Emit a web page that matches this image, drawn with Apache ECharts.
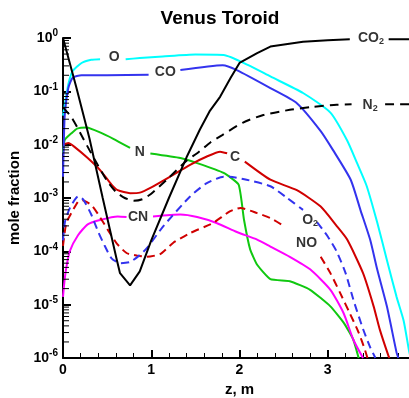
<!DOCTYPE html>
<html>
<head>
<meta charset="utf-8">
<script src="https://cdn.jsdelivr.net/npm/echarts@6/dist/echarts.min.js"></script>
<style>
  html, body { margin: 0; padding: 0; background: #fff; }
  #chart { width: 409px; height: 398px; }
</style>
</head>
<body>
<div id="chart"></div>
<script>
// Mole fractions along the torch axis, as [z (m), mole fraction].
// A null value leaves a break in the curve where its name is written.
const CO2 = [[0, 1.0], [0.15, 0.12], [0.3, 0.013], [0.45, 1.0e-3], [0.61, 6.9e-5], [0.646, 3.9e-5],
  [0.76, 2.3e-5], [0.87, 4.2e-5], [1.0, 1.6e-4], [1.2, 1.0e-3], [1.4, 5.8e-3], [1.55, 0.019],
  [1.66, 0.042], [1.78, 0.079], [1.9, 0.18], [2.0, 0.34], [2.2, 0.52], [2.35, 0.69], [2.72, 0.85],
  [3.0, 0.91], [3.25, 0.95], [3.3, null], [3.69, 0.95], [4.0, 0.95]];

const N2 = [[0, 0.05], [0.1, 0.032], [0.2, 0.016], [0.3, 7.9e-3], [0.4, 4.0e-3], [0.5, 2.1e-3],
  [0.6, 1.3e-3], [0.7, 1.0e-3], [0.8, 8.9e-4], [0.9, 9.5e-4], [1.0, 1.2e-3], [1.2, 2.4e-3],
  [1.4, 5.0e-3], [1.52, 6.9e-3], [1.67, 0.011], [1.8, 0.015], [2.04, 0.026], [2.27, 0.036],
  [2.57, 0.045], [2.83, 0.051], [3.1, 0.056], [3.27, 0.057], [3.3, null], [3.65, 0.057], [4.0, 0.057]];

const O = [[0, 0.035], [0.02, 0.056], [0.06, 0.135], [0.11, 0.24], [0.21, 0.34], [0.32, 0.39],
  [0.42, 0.40], [0.44, null], [0.71, 0.40], [0.87, 0.42], [1.13, 0.45], [1.5, 0.49], [1.82, 0.48],
  [2.1, 0.31], [2.35, 0.19], [2.72, 0.093], [3.03, 0.040], [3.22, 0.012], [3.33, 4.6e-3],
  [3.44, 1.7e-3], [3.56, 3.5e-4], [3.67, 6.9e-5], [3.78, 1.4e-5], [3.86, 5.0e-6], [3.92, 1.4e-6],
  [3.94, 1.0e-6]];

const CO = [[0, 2.5e-3], [0.01, 0.0126], [0.02, 0.036], [0.06, 0.115], [0.11, 0.18], [0.21, 0.20],
  [0.5, 0.20], [0.97, 0.205], [1.0, null], [1.33, 0.25], [1.81, 0.31], [1.97, 0.25], [2.35, 0.115],
  [2.65, 0.060], [2.92, 0.018], [3.06, 7.9e-3], [3.26, 2.2e-3], [3.37, 6.0e-4], [3.48, 1.66e-4],
  [3.56, 4.6e-5], [3.67, 9.3e-6], [3.78, 1.26e-6], [3.8, 1.0e-6]];

const N = [[0, 7.1e-3], [0.02, 0.0123], [0.1, 0.0166], [0.16, 0.020], [0.27, 0.021], [0.42, 0.017],
  [0.57, 0.0129], [0.76, 8.7e-3], [0.8, null], [0.99, 6.8e-3], [1.33, 5.6e-3], [1.52, 4.5e-3],
  [1.82, 2.95e-3], [1.99, 1.78e-3], [2.05, 4.0e-4], [2.12, 1.1e-4], [2.2, 5.6e-5], [2.35, 3.0e-5],
  [2.57, 2.75e-5], [2.8, 1.9e-5], [3.03, 9.3e-6], [3.18, 4.6e-6], [3.29, 2.2e-6], [3.35, 1.0e-6]];

const C = [[0, 0.010], [0.06, 0.0107], [0.13, 9.1e-3], [0.28, 5.6e-3], [0.43, 3.2e-3], [0.55, 1.78e-3],
  [0.62, 1.4e-3], [0.76, 1.23e-3], [0.87, 1.26e-3], [0.99, 1.55e-3], [1.21, 2.5e-3], [1.44, 4.2e-3],
  [1.63, 6.0e-3], [1.78, 7.4e-3], [1.86, 6.9e-3], [1.88, null], [2.06, 4.8e-3], [2.35, 2.2e-3],
  [2.65, 1.4e-3], [2.92, 6.9e-4], [3.1, 3.0e-4], [3.22, 1.66e-4], [3.4, 3.9e-5], [3.52, 9.3e-6],
  [3.59, 3.4e-6], [3.69, 1.07e-6], [3.7, 1.0e-6]];

const CN = [[0, 1.4e-5], [0.015, 2.6e-5], [0.037, 4.9e-5], [0.076, 1.0e-4], [0.17, 2.0e-4],
  [0.28, 3.2e-4], [0.43, 3.9e-4], [0.62, 4.5e-4], [0.72, 4.4e-4], [0.74, null], [1.02, 4.5e-4],
  [1.33, 4.9e-4], [1.52, 4.4e-4], [1.74, 3.4e-4], [1.97, 2.3e-4], [2.2, 1.66e-4], [2.35, 1.23e-4],
  [2.57, 7.9e-5], [2.8, 4.6e-5], [3.03, 1.9e-5], [3.18, 6.9e-6], [3.29, 2.2e-6], [3.4, 1.0e-6]];

const O2 = [[0, 1.6e-4], [0.023, 3.6e-4], [0.08, 6.6e-4], [0.17, 1.07e-3], [0.23, 9.3e-4],
  [0.32, 4.9e-4], [0.4, 2.3e-4], [0.47, 1.3e-4], [0.55, 7.4e-5], [0.65, 6.0e-5], [0.76, 6.3e-5],
  [0.87, 8.5e-5], [0.95, 1.15e-4], [1.14, 3.0e-4], [1.44, 1.07e-3], [1.63, 1.9e-3], [1.82, 2.5e-3],
  [1.89, 2.5e-3], [2.08, 2.2e-3], [2.35, 1.66e-3], [2.54, 1.0e-3], [2.72, 6.0e-4], [2.75, null],
  [2.88, 3.5e-4], [3.0, 1.9e-4], [3.1, 1.0e-4], [3.2, 4.0e-5], [3.3, 1.1e-5], [3.4, 3.5e-6],
  [3.48, 1.6e-6], [3.54, 1.0e-6]];

const NO = [[0, 1.26e-4], [0.037, 3.4e-4], [0.094, 5.2e-4], [0.17, 8.5e-4], [0.22, 9.1e-4],
  [0.32, 7.4e-4], [0.4, 4.9e-4], [0.51, 2.5e-4], [0.61, 1.4e-4], [0.72, 9.3e-5], [0.84, 8.3e-5],
  [0.95, 7.9e-5], [1.1, 8.9e-5], [1.25, 1.45e-4], [1.44, 2.2e-4], [1.7, 3.4e-4], [1.89, 5.6e-4],
  [2.01, 6.5e-4], [2.2, 5.2e-4], [2.35, 4.2e-4], [2.5, 3.0e-4], [2.53, null], [2.92, 7.9e-5],
  [3.03, 3.9e-5], [3.14, 1.66e-5], [3.25, 6.9e-6], [3.35, 3.0e-6], [3.42, 1.45e-6], [3.45, 1.0e-6]];

// Inline curve names and where they sit, [z, mole fraction]
const labelNames = ['O', 'CO', 'N', 'C', 'CN', 'O2', 'NO', 'CO2', 'N2'];
const labelZ = [0.58, 1.16, 0.87, 1.95, 0.85, 2.8, 2.76, 3.49, 3.48];
const labelFrac = [0.44, 0.23, 7.1e-3, 5.9e-3, 4.3e-4, 3.9e-4, 1.45e-4, 1.0, 0.056];

// Axis settings
const zTicks = [0, 1, 2, 3, 4];
const decadeExponents = [-6, -5, -4, -3, -2, -1, 0];

const FONT = '"Liberation Sans", Arial, Helvetica, sans-serif';

// 2..9 x 10^k marks inside every decade of the log axis
const minorLogTicks = [];
decadeExponents.slice(0, -1).forEach(function (e) {
  for (let m = 2; m <= 9; m++) minorLogTicks.push(m * Math.pow(10, e));
});

function nameWithSub(name) {
  const m = /^(.*?)(\d+)$/.exec(name);
  return m ? '{n|' + m[1] + '}{sub|' + m[2] + '}' : '{n|' + name + '}';
}

function curve(name, data, color, dashed, smooth) {
  return {
    name: name,
    type: 'line',
    data: data,
    showSymbol: false,
    symbol: 'none',
    connectNulls: false,
    smooth: smooth,
    lineStyle: { color: color, width: 2, type: dashed ? dashed : 'solid' },
    emphasis: { disabled: true },
    silent: true,
    z: 3
  };
}

const chart = echarts.init(document.getElementById('chart'), null, { renderer: 'canvas' });

chart.setOption({
  animation: false,
  backgroundColor: '#ffffff',
  textStyle: { fontFamily: FONT },
  graphic: [{
    type: 'text',
    x: 220, y: 19,
    style: {
      text: 'Venus Toroid',
      font: 'bold 19px ' + FONT,
      fill: '#000',
      textAlign: 'center',
      textVerticalAlign: 'middle'
    }
  }],
  grid: { left: 63, top: 38, right: -7, bottom: 40, containLabel: false, outerBoundsMode: 'none' },
  xAxis: {
    type: 'value',
    min: zTicks[0],
    max: zTicks[zTicks.length - 1],
    interval: 1,
    name: 'z, m',
    nameLocation: 'middle',
    nameGap: 24,
    nameTextStyle: { fontSize: 15, fontWeight: 'bold', color: '#000', fontFamily: FONT },
    axisLine: { show: true, lineStyle: { color: '#000', width: 2 } },
    axisTick: { show: true, inside: true, length: 8, lineStyle: { color: '#000', width: 2 } },
    minorTick: { show: true, splitNumber: 5, length: 5, lineStyle: { color: '#000', width: 1 } },
    axisLabel: { show: true, margin: 5, fontSize: 14, fontWeight: 'bold', color: '#000', fontFamily: FONT },
    splitLine: { show: false },
    minorSplitLine: { show: false }
  },
  yAxis: {
    type: 'log',
    logBase: 10,
    min: Math.pow(10, decadeExponents[0]),
    max: Math.pow(10, decadeExponents[decadeExponents.length - 1]),
    interval: 1,
    position: 'left',
    name: 'mole fraction',
    nameLocation: 'middle',
    nameGap: 34,
    nameRotate: 90,
    nameTextStyle: { fontSize: 15, fontWeight: 'bold', color: '#000', fontFamily: FONT },
    axisLine: { show: true, lineStyle: { color: '#000', width: 2 } },
    axisTick: { show: true, inside: true, length: 8, lineStyle: { color: '#000', width: 2 } },
    axisLabel: {
      show: true,
      margin: 5,
      color: '#000',
      formatter: function (v) {
        const e = Math.round(Math.log10(v));
        return '{b|10}{s|' + e + '}';
      },
      rich: {
        b: { fontSize: 14, fontWeight: 'bold', fontFamily: FONT, color: '#000' },
        s: { fontSize: 10, fontWeight: 'bold', fontFamily: FONT, color: '#000', padding: [0, 0, 9, 0] }
      }
    },
    splitLine: { show: false }
  },
  series: [
    // minor log ticks on the left axis, placed through the axis scale
    {
      type: 'custom',
      silent: true,
      clip: false,
      z: 6,
      data: minorLogTicks.map(function (v) { return [zTicks[0], v]; }),
      renderItem: function (params, api) {
        const p = api.coord([api.value(0), api.value(1)]);
        return {
          type: 'line',
          shape: { x1: p[0], y1: p[1], x2: p[0] + 6, y2: p[1] },
          style: { stroke: '#000', lineWidth: 1 }
        };
      }
    },
    curve('N', N, '#10c810', null, 0.15),
    curve('CN', CN, '#ff00ff', null, 0.2),
    curve('NO', NO, '#d00000', [8, 5], 0.2),
    curve('O2', O2, '#3333ee', [8, 5], 0.2),
    curve('C', C, '#d00000', null, 0.2),
    curve('O', O, '#00ffff', null, 0.2),
    curve('CO', CO, '#3333ee', null, 0.2),
    curve('N2', N2, '#000000', [9, 6], 0.2),
    curve('CO2', CO2, '#000000', null, false),
    {
      type: 'scatter',
      silent: true,
      symbolSize: 1,
      itemStyle: { color: 'rgba(0,0,0,0)' },
      z: 5,
      data: labelNames.map(function (n, i) { return { name: n, value: [labelZ[i], labelFrac[i]] }; }),
      label: {
        show: true,
        position: 'inside',
        formatter: function (p) { return nameWithSub(p.name); },
        rich: {
          n: { fontSize: 14, fontWeight: 'bold', fontFamily: FONT, color: '#000' },
          sub: { fontSize: 9, fontWeight: 'bold', fontFamily: FONT, color: '#000', padding: [8, 0, 0, 0] }
        }
      }
    }
  ]
});
</script>
</body>
</html>
